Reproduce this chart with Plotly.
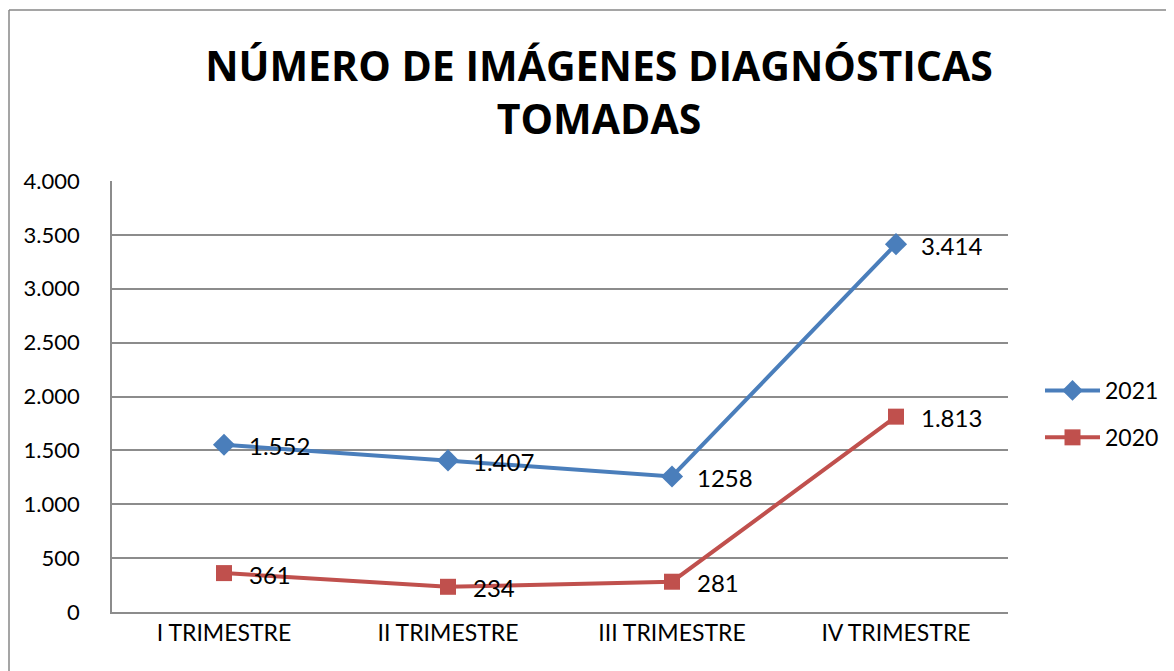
import plotly.graph_objects as go

categories = ["I TRIMESTRE", "II TRIMESTRE", "III TRIMESTRE", "IV TRIMESTRE"]
values_2021 = [1552, 1407, 1258, 3414]
values_2020 = [361, 234, 281, 1813]
labels_2021 = ["1.552", "1.407", "1258", "3.414"]
labels_2020 = ["361", "234", "281", "1.813"]
y_ticks = [0, 500, 1000, 1500, 2000, 2500, 3000, 3500, 4000]

BLUE = "#4A7EBB"
RED = "#C0504D"
GRID = "#8C8C8C"
TXT = "Lato, 'Open Sans', sans-serif"

# page has an 8px body margin; work in figure coordinates (page - 8)
OFF = 8
FW, FH = 1174 - OFF, 671 - OFF

fig = go.Figure()
fig.add_trace(go.Scatter(
    x=categories, y=values_2021, name="2021", mode="lines+markers",
    line=dict(color=BLUE, width=4),
    marker=dict(symbol="diamond", size=17, color=BLUE),
    legendgroup="a", cliponaxis=False,
))
fig.add_trace(go.Scatter(
    x=categories, y=values_2020, name="2020", mode="lines+markers",
    line=dict(color=RED, width=4),
    marker=dict(symbol="square", size=16, color=RED),
    legendgroup="b", cliponaxis=False,
))

annotations = []
for cats, vals, labs in [(categories, values_2021, labels_2021), (categories, values_2020, labels_2020)]:
    for c, v, t in zip(cats, vals, labs):
        annotations.append(dict(
            x=c, y=v, xref="x", yref="y", text=t, showarrow=False,
            xanchor="left", yanchor="middle", xshift=23, yshift=-1,
            font=dict(family=TXT, size=24, color="#000000"),
        ))

L, R, T, B = 112 - OFF, 1008 - OFF, 181 - OFF, 612 - OFF
W, H = R - L, B - T
def px(x):
    return (x - OFF - L) / W
def py(y):
    return (B - (y - OFF)) / H

shapes = [
    dict(type="line", xref="paper", yref="paper", x0=px(9), x1=px(1190), y0=py(10), y1=py(10),
         line=dict(color="#878787", width=1.5)),
    dict(type="line", xref="paper", yref="paper", x0=px(9), x1=px(9), y0=py(10), y1=py(700),
         line=dict(color="#878787", width=1.5)),
]

fig.update_layout(
    width=FW, height=FH,
    margin=dict(l=L, r=FW - R, t=T, b=FH - B, autoexpand=False),
    paper_bgcolor="white", plot_bgcolor="white",
    separators=",.",
    title=dict(
        text="NÚMERO DE IMÁGENES DIAGNÓSTICAS<br>TOMADAS",
        x=(599 - OFF) / FW, xanchor="center", xref="container",
        y=1 - 72.5 / FH, yanchor="middle", yref="container",
        font=dict(family="'Open Sans', sans-serif", size=41, color="#000000", weight="bold"),
    ),
    xaxis=dict(
        type="category", showgrid=False, showline=True, linecolor=GRID, linewidth=1.5,
        ticks="", tickfont=dict(family=TXT, size=23, color="#000000"),
        range=[-0.5, 3.5], fixedrange=True,
    ),
    yaxis=dict(
        range=[0, 4000], tickvals=y_ticks, tickformat=",d",
        showgrid=True, gridcolor=GRID, gridwidth=1.5,
        showline=True, linecolor=GRID, linewidth=1.5,
        zeroline=False, ticks="", ticklabelstandoff=26,
        tickfont=dict(family=TXT, size=22, color="#000000"),
    ),
    legend=dict(
        x=(1040 - OFF) / FW, y=1 - (414 - OFF) / FH, xref="container", yref="container",
        xanchor="left", yanchor="middle",
        font=dict(family=TXT, size=23, color="#000000"),
        tracegroupgap=14, traceorder="grouped", bgcolor="rgba(0,0,0,0)",
        itemwidth=55,
    ),
    showlegend=True,
    annotations=annotations,
    shapes=shapes,
)

fig.write_html("out.html")
